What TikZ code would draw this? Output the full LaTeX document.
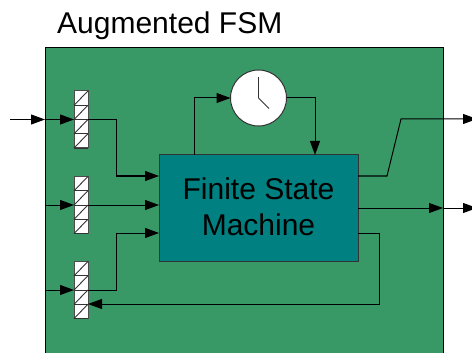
\documentclass[tikz,border=0pt]{standalone}
\usepackage{fontspec}
\setmainfont{Liberation Sans}
\usetikzlibrary{arrows.meta,calc}
\definecolor{boxgreen}{HTML}{389966}
\definecolor{fsmteal}{HTML}{008080}
\tikzset{
    conn/.style={draw=black, line width=1pt, -{Triangle[length=14pt,width=10pt]}},
    regbox/.style={draw=black!70, line width=1pt, fill=white, minimum width=14pt, minimum height=57pt, inner sep=0pt, outer sep=0pt},
    hand/.style={draw=black!80, line width=1pt}
}
\begin{document}
\begin{tikzpicture}[x=1pt, y=-1pt]
    \useasboundingbox (0,0) rectangle (472,353);
    \fill[boxgreen] (45,48) rectangle (443,353);
    \draw[line width=1pt] (45,353) -- (45,48) -- (443,48) -- (443,353);

    \node[anchor=base west, font=\fontsize{30}{36}\selectfont, inner sep=0pt] (title) at (57,34) {Augmented FSM};

    \node[draw=black!80, line width=1pt, fill=fsmteal, minimum width=199pt, minimum height=106pt, inner sep=0pt, outer sep=0pt,
        align=center, text depth=3pt, font=\fontsize{30}{36}\selectfont] (fsm) at (258.5,208) {Finite State\\Machine};
    \node[draw=black!80, line width=1pt, fill=white, circle, minimum size=56pt, inner sep=0pt, outer sep=0pt] (clock) at (258.5,98) {};
    \draw[hand] (clock.center) -- ++(0,-21);
    \draw[hand] (clock.center) -- ++(10.5,10.5);

    \node[regbox] (reg1) at (81,119.5) {};
    \node[regbox] (reg2) at (81,205) {};
    \node[regbox] (reg3) at (81,290) {};
    \foreach \r in {reg1,reg2,reg3} {
        \foreach \i in {0,1,2,3} {
            \draw[line width=0.9pt, draw=black!80] ($(\r.south west)+(0,-14.25*\i)$) -- ++(14,-14.25);
            \draw[line width=0.9pt, draw=black!80] ($(\r.south west)+(0,-14.25*\i)$) -- ++(14,0);
        }
    }

    \coordinate (in1) at (10,119.5);
    \coordinate (edge1) at (45,119.5);
    \coordinate (edge2) at (45,205);
    \coordinate (edge3) at (45,290);
    \coordinate (edge4) at (443,208);
    \coordinate (out1) at (477,119);
    \coordinate (out2) at (477,208);

    \draw[conn] (in1) -- (edge1);
    \draw[conn] (edge1) -- (reg1.west);
    \draw[conn] (edge2) -- (reg2.west);
    \draw[conn] (edge3) -- (reg3.west);

    \draw[conn] (reg1.east) -- (116,119.5) -- (116,176) -- (fsm.west |- 0,176);
    \draw[conn] (reg2.east) -- (fsm.west |- reg2.east);
    \draw[conn] (reg3.east) -- (116,290) -- (116,233) -- (fsm.west |- 0,233);
    \draw[conn] (fsm.east |- 0,233) -- (379,233) -- (379,304) -- (reg3.east |- 0,304);

    \draw[conn] (194,155) -- (194,98) -- (clock.west);
    \draw[conn] (clock.east) -- (315,98) -- (315,155);

    \draw[conn] (fsm.east |- 0,176) -- (387,176) -- (401,119) -- (out1);
    \draw[conn] (fsm.east |- 0,208) -- (edge4);
    \draw[conn] (edge4) -- (out2);
\end{tikzpicture}
\end{document}
